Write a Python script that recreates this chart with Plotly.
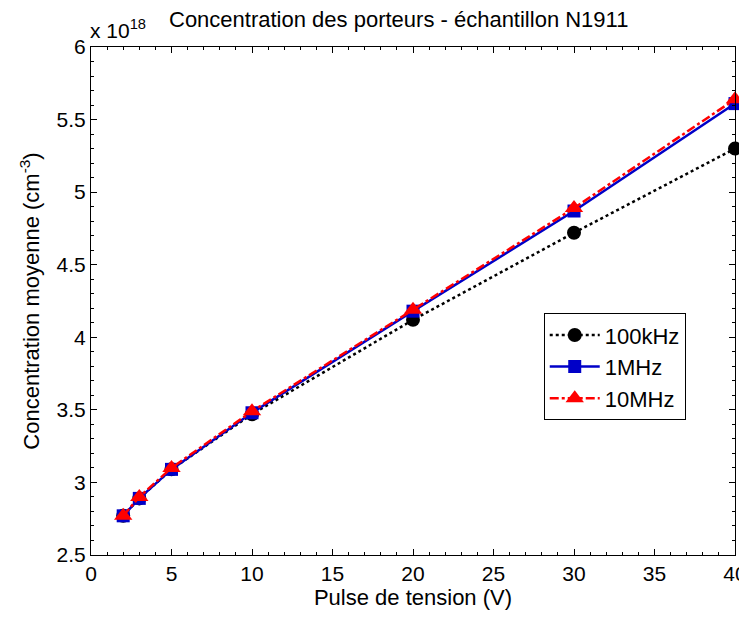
import plotly.graph_objects as go

voltage = [2, 3, 5, 10, 20, 30, 40]
conc_100khz = [2.77, 2.89, 3.09, 3.47, 4.12, 4.72, 5.30]
conc_1mhz = [2.77, 2.89, 3.09, 3.48, 4.18, 4.87, 5.61]
conc_10mhz = [2.77, 2.90, 3.10, 3.49, 4.19, 4.89, 5.64]
series_names = ["100kHz", "1MHz", "10MHz"]
y_tickvals = [2.5, 3, 3.5, 4, 4.5, 5, 5.5, 6]
y_ticktext = ["2.5", "3", "3.5", "4", "4.5", "5", "5.5", "6"]

FONT = "Liberation Sans, Arial, sans-serif"
FS_TICK = 21
FS = 22

fig = go.Figure()
fig.add_trace(go.Scatter(x=voltage, y=conc_100khz, name=series_names[0], mode="lines+markers",
                         line=dict(color="black", width=2.5, dash="dot"), cliponaxis=False,
                         marker=dict(symbol="circle", size=14, color="black")))
fig.add_trace(go.Scatter(x=voltage, y=conc_1mhz, name=series_names[1], mode="lines+markers",
                         line=dict(color="#0000c8", width=2.5), cliponaxis=False,
                         marker=dict(symbol="square", size=13, color="#0000c8")))
fig.add_trace(go.Scatter(x=voltage, y=conc_10mhz, name=series_names[2], mode="lines+markers",
                         line=dict(color="#ff0000", width=2.5, dash="dashdot"), cliponaxis=False,
                         marker=dict(symbol="triangle-up", size=16, color="#ff0000")))

axis_common = dict(showgrid=False, zeroline=False, showline=True, linecolor="black", linewidth=1,
                   mirror="allticks", ticks="inside", ticklen=6, tickcolor="black", automargin=False,
                   tickfont=dict(family=FONT, size=FS_TICK, color="black"))

fig.update_xaxes(range=[0, 40], tick0=0, dtick=5,
                 minor=dict(dtick=1, ticks="inside", ticklen=3, tickcolor="black", showgrid=False),
                 title=dict(text="Pulse de tension (V)", font=dict(family=FONT, size=FS, color="black"), standoff=3),
                 **axis_common)
fig.update_yaxes(range=[2.5, 6], tickmode="array", tickvals=y_tickvals, ticktext=y_ticktext,
                 minor=dict(tickmode="linear", tick0=2.5, dtick=0.1, ticks="inside", ticklen=3, tickcolor="black", showgrid=False),
                 title=dict(text="Concentration moyenne (cm<sup>-3</sup>)", font=dict(family=FONT, size=FS, color="black"), standoff=10),
                 **axis_common)

fig.add_annotation(text="x 10<sup>18</sup>", xref="paper", yref="paper", x=-0.005, y=1.0,
                   xanchor="left", yanchor="bottom", showarrow=False, yshift=3,
                   font=dict(family=FONT, size=FS_TICK, color="black"))
fig.add_annotation(text="Concentration des porteurs - échantillon N1911", xref="paper", yref="paper",
                   x=0.478, y=1.0, xanchor="center", yanchor="bottom", yshift=13, showarrow=False,
                   font=dict(family=FONT, size=FS, color="black"))

# page body has an 8px margin; compensate so the plot area lands at x 91..735, y 47..555
fig.update_layout(
    width=739, height=609,
    margin=dict(l=83, r=12, t=39, b=62),
    paper_bgcolor="white", plot_bgcolor="white",
    showlegend=True,
    legend=dict(x=0.703, y=0.476, xanchor="left", yanchor="top",
                bgcolor="white", bordercolor="black", borderwidth=1,
                font=dict(family=FONT, size=FS, color="black"),
                itemwidth=50, tracegroupgap=0),
    font=dict(family=FONT, color="black"),
)

fig.write_html("out.html")
